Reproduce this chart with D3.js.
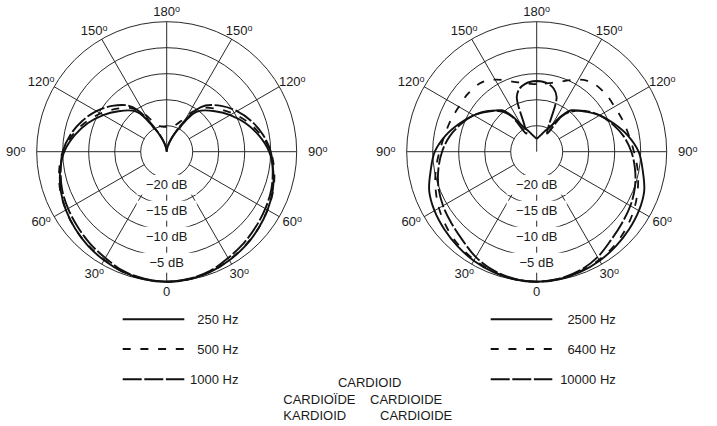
<!DOCTYPE html>
<html>
<head>
<meta charset="utf-8">
<script src="https://cdn.jsdelivr.net/npm/d3@7"></script>
<style>
  html, body { margin: 0; padding: 0; background: #fff; }
  svg { display: block; }
  text { font-family: "Liberation Sans", Arial, Helvetica, sans-serif; font-size: 13px; fill: #1a1a1a; }
</style>
</head>
<body>
<svg id="chart" width="717" height="426"></svg>
<script>
// Polar response of a cardioid microphone, level in dB vs. angle (degrees, 0 = on-axis).
// Values are given for one half of the pattern and mirrored for the other half.
const angles  = [0, 10, 20, 30, 40, 50, 60, 70, 80, 90, 100, 110, 120, 130, 140, 145, 150, 155, 160, 165, 170, 175, 180];

const hz250   = [0, -0.1, -0.4, -0.9, -1.4, -2.0, -2.6, -3.3, -4.2, -5.3, -7.0, -8.9, -10.9, -12.9, -14.7, -16.0, -18.8, -20.8, -22.3, -23.4, -24.2, -24.7, -25];
const hz500   = [0, -0.1, -0.4, -1.0, -1.5, -2.0, -2.6, -3.2, -4.0, -5.0, -6.6, -8.4, -10.3, -12.2, -14.0, -15.3, -16.8, -18.5, -19.4, -19.9, -20.1, -20.2, -20.2];
const hz1000  = [0, -0.2, -0.6, -1.4, -2.0, -2.6, -3.1, -3.6, -4.3, -5.0, -6.2, -7.7, -9.4, -11.3, -13.4, -15.2, -18.2, -20.6, -22.2, -23.3, -24.1, -24.7, -25];

const hz2500  = [0, -0.1, -0.4, -0.8, -1.3, -1.8, -2.3, -3.0, -4.3, -5.4, -7.2, -9.2, -11.0, -13.0, -14.6, -16.5, -19.0, -20.2, -21.0, -21.6, -22.0, -22.3, -22.5];
const hz6400  = [0, -0.1, -0.5, -1.0, -1.6, -2.4, -3.3, -4.3, -5.3, -6.3, -7.0, -7.4, -7.7, -7.7, -7.9, -8.3, -9.0, -9.8, -10.6, -11.2, -11.6, -11.9, -12.0];
const hz10000 = [0, -0.2, -0.7, -1.6, -2.8, -3.6, -4.2, -4.9, -5.8, -6.8, -8.0, -9.5, -11.0, -12.8, -15.0, -16.8, -21.0, -19.5, -13.8, -12.4, -11.8, -11.5, -11.4];

const lowNames  = ["250 Hz", "500 Hz", "1000 Hz"];
const highNames = ["2500 Hz", "6400 Hz", "10000 Hz"];

const dbRange    = [-25, 0];
const ringLevels = [-20, -15, -10, -5, 0];
const dbLabels   = ["\u221220 dB", "\u221215 dB", "\u221210 dB", "\u22125 dB"];
const angleTicks = [0, 30, 60, 90, 120, 150, 180];

const titleLines = ["CARDIOID", "CARDIO\u00CFDE", "CARDIOIDE", "KARDIOID", "CARDIOIDE"];

// ---- styling -------------------------------------------------------------
const R = 130;
const gridColor = "#1e1e1e";
const inkColor = "#111";
const styles = [
  { width: 1.9, dash: null },
  { width: 1.8, dash: "8,9.7" },
  { width: 1.9, dash: "19,2.6" }
];

const svg = d3.select("#chart");
const rScale = d3.scaleLinear().domain(dbRange).range([0, R]).clamp(true);
const rad = d => d * Math.PI / 180;

function mirror(vals) {
  const pts = [];
  for (let i = angles.length - 1; i > 0; i--) pts.push({ a: -angles[i], v: vals[i] });
  for (let i = 0; i < angles.length; i++) pts.push({ a: angles[i], v: vals[i] });
  return pts;
}

const radial = d3.lineRadial()
  .angle(d => Math.PI - rad(d.a))
  .radius(d => rScale(d.v))
  .curve(d3.curveCatmullRom.alpha(0.5));

function polarPlot(cx, cy, seriesList) {
  const g = svg.append("g").attr("transform", `translate(${cx},${cy})`);

  // rings
  g.selectAll("circle.ring").data(ringLevels).join("circle")
    .attr("class", "ring")
    .attr("r", d => rScale(d))
    .attr("fill", "none").attr("stroke", gridColor).attr("stroke-width", 0.95);

  // spokes every 30 degrees, starting at the innermost ring
  const spokes = [];
  angleTicks.forEach(a => { spokes.push(a); if (a !== 0 && a !== 180) spokes.push(-a); });
  const r0 = rScale(ringLevels[0]);
  g.selectAll("line.spoke").data(spokes).join("line")
    .attr("class", "spoke")
    .attr("x1", d => (d === 180 ? 0 : r0) * Math.sin(rad(d)))
    .attr("y1", d => (d === 180 ? 0 : r0) * Math.cos(rad(d)))
    .attr("x2", d => R * Math.sin(rad(d)))
    .attr("y2", d => R * Math.cos(rad(d)))
    .attr("stroke", gridColor).attr("stroke-width", 0.95);

  // dB scale along the on-axis spoke
  const lab = g.selectAll("g.dbl").data(ringLevels.slice(0, 4)).join("g")
    .attr("class", "dbl")
    .attr("transform", d => `translate(0,${rScale(d) + 7})`);
  lab.append("rect")
    .attr("x", -30).attr("y", -10).attr("width", 60).attr("height", 20)
    .attr("fill", "#fff");
  lab.append("text")
    .attr("text-anchor", "middle").attr("dy", "0.36em")
    .text((d, i) => dbLabels[i]);

  // response curves
  seriesList.forEach((vals, i) => {
    g.append("path")
      .attr("d", radial(mirror(vals)))
      .attr("fill", "none")
      .attr("stroke", inkColor)
      .attr("stroke-width", styles[i].width)
      .attr("stroke-dasharray", styles[i].dash)
      .attr("stroke-linejoin", "round");
  });

  // angle labels
  const tickPts = [];
  angleTicks.forEach(a => { tickPts.push(a); if (a !== 0 && a !== 180) tickPts.push(-a); });
  const tl = g.selectAll("text.ang").data(tickPts).join("text")
    .attr("class", "ang")
    .attr("text-anchor", "middle")
    .attr("x", d => 145 * Math.sin(rad(d)) + (Math.abs(d) === 90 ? Math.sign(d) * 6 : 0))
    .attr("y", d => 140 * Math.cos(rad(d)))
    .attr("dy", "0.36em");
  tl.append("tspan").text(d => Math.abs(d));
  tl.filter(d => d !== 0).append("tspan")
    .attr("font-size", "9px").attr("dy", "-4").text("o");
}

polarPlot(166.7, 151.7, [hz250, hz500, hz1000]);
polarPlot(536.7, 151.7, [hz2500, hz6400, hz10000]);

// legends
function legend(x1, x2, textRight, names) {
  const rows = [319.3, 349, 379.3];
  names.forEach((name, i) => {
    svg.append("line")
      .attr("x1", x1).attr("x2", x2).attr("y1", rows[i]).attr("y2", rows[i])
      .attr("stroke", inkColor).attr("stroke-width", 2.1)
      .attr("stroke-dasharray", styles[i].dash);
    svg.append("text")
      .attr("x", textRight).attr("y", rows[i]).attr("dy", "0.36em")
      .attr("text-anchor", "end").text(name);
  });
}
legend(122.7, 184.3, 238.5, lowNames);
legend(490.7, 552.3, 615.8, highNames);

// pattern name in several languages
svg.append("text").attr("x", 369.7).attr("y", 386.5).attr("text-anchor", "middle").text(titleLines[0]);
svg.append("text").attr("x", 283.3).attr("y", 404.2).text(titleLines[1]);
svg.append("text").attr("x", 370).attr("y", 404.2).text(titleLines[2]);
svg.append("text").attr("x", 283.3).attr("y", 419.5).text(titleLines[3]);
svg.append("text").attr("x", 380).attr("y", 419.5).text(titleLines[4]);
</script>
</body>
</html>
